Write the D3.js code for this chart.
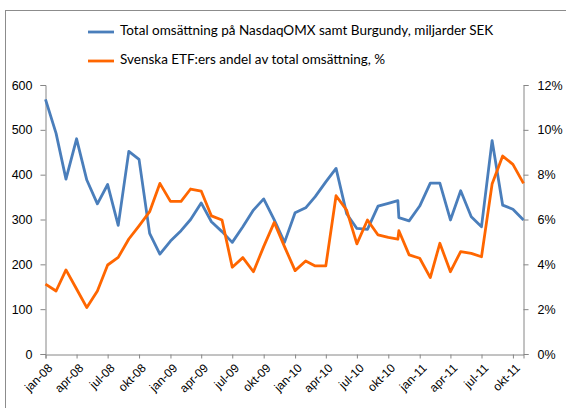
<!DOCTYPE html>
<html><head><meta charset="utf-8">
<script src="https://cdn.jsdelivr.net/npm/d3@7"></script>
<style>body{margin:0;background:#fff}svg{display:block}</style>
</head><body><svg id="c" width="566" height="408"></svg>
<script>
const dates = ["2008-01-01","2008-02-01","2008-03-01","2008-04-01","2008-05-01","2008-06-01","2008-07-01","2008-08-01","2008-09-01","2008-10-01","2008-11-01","2008-12-01",
"2009-01-01","2009-02-01","2009-03-01","2009-04-01","2009-05-01","2009-06-01","2009-07-01","2009-08-01","2009-09-01","2009-10-01","2009-11-01","2009-12-01",
"2010-01-01","2010-02-01","2010-03-01","2010-04-01","2010-05-01","2010-06-01","2010-07-01","2010-08-01","2010-09-01","2010-10-01","2010-10-29","2010-11-01","2010-12-01",
"2011-01-01","2011-02-01","2011-03-01","2011-04-01","2011-05-01","2011-06-01","2011-07-01","2011-08-01","2011-09-01","2011-10-01","2011-11-01"];
const turnover = [568,492,390,480,388,335,378,287,452,434,269,223,
252,275,300,337,295,273,249,284,321,346,299,249,
315,326,351,384,414,313,280,278,330,336,342,304,297,
330,381,381,299,364,306,284,476,332,323,299];
const etfShare = [3.12,2.81,3.75,2.90,2.07,2.81,3.97,4.31,5.13,5.72,6.35,7.61,
6.81,6.81,7.36,7.27,6.16,5.98,3.87,4.30,3.67,4.79,5.87,4.79,
3.72,4.15,3.93,3.93,7.06,6.42,4.91,5.98,5.31,5.20,5.12,5.50,4.42,
4.27,3.41,4.94,3.67,4.57,4.49,4.34,7.58,8.83,8.46,7.61];
const xTickDates = ["2008-01-01","2008-04-01","2008-07-01","2008-10-01","2009-01-01","2009-04-01","2009-07-01","2009-10-01","2010-01-01","2010-04-01","2010-07-01","2010-10-01","2011-01-01","2011-04-01","2011-07-01","2011-10-01"];
const xTickLabels = ["jan-08","apr-08","jul-08","okt-08","jan-09","apr-09","jul-09","okt-09","jan-10","apr-10","jul-10","okt-10","jan-11","apr-11","jul-11","okt-11"];
const leftTicks = [0,100,200,300,400,500,600];
const rightTicks = [0,2,4,6,8,10,12];
const seriesNames = ["Total omsättning på NasdaqOMX samt Burgundy, miljarder SEK","Svenska ETF:ers andel av total omsättning, %"];
const colors = ["#4a7ebb","#ff6600"];

const parse = d3.utcParse("%Y-%m-%d");
const svg = d3.select("#c");
const axisColor = "#868686";
const font = "'Liberation Sans', Arial, sans-serif";

// outer frame
svg.append("rect").attr("x",5.5).attr("y",10.5).attr("width",600).attr("height",500)
  .attr("fill","none").attr("stroke","#8c8c8c").attr("stroke-width",1);

const x = d3.scaleUtc().domain([parse(dates[0]), parse(dates[dates.length-1])]).range([45.5,523.5]);
const yL = d3.scaleLinear().domain([0,600]).range([354,85]);
const yR = d3.scaleLinear().domain([0,12]).range([354,85]);

const gL = svg.append("g").attr("transform","translate(45.5,0)")
  .call(d3.axisLeft(yL).tickValues(leftTicks).tickSize(5).tickPadding(8));
const gR = svg.append("g").attr("transform","translate(523.5,0)")
  .call(d3.axisRight(yR).tickValues(rightTicks).tickSize(5).tickPadding(9).tickFormat(d=>d+"%"));
const gB = svg.append("g").attr("transform","translate(0,354.5)")
  .call(d3.axisBottom(x).tickValues(xTickDates.map(parse)).tickSize(4)
  .tickFormat((d,i)=>xTickLabels[i]));
[gL,gR,gB].forEach(g=>{
  g.select(".domain").attr("stroke",axisColor);
  g.selectAll(".tick line").attr("stroke",axisColor);
  g.selectAll("text").attr("fill","#000").style("font-family",font).style("font-size","12.5px");
});
gB.selectAll(".tick text").attr("text-anchor","end").attr("dy",null).attr("y",0)
  .style("font-size","12px")
  .attr("transform","translate(5,12) rotate(-45)").attr("dominant-baseline","middle");

const lineL = d3.line().x((d,i)=>x(parse(dates[i]))).y(d=>yL(d));
const lineR = d3.line().x((d,i)=>x(parse(dates[i]))).y(d=>yR(d));
svg.append("path").datum(turnover).attr("d",lineL).attr("fill","none")
  .attr("stroke",colors[0]).attr("stroke-width",2.8).attr("stroke-linejoin","round");
svg.append("path").datum(etfShare).attr("d",lineR).attr("fill","none")
  .attr("stroke",colors[1]).attr("stroke-width",2.8).attr("stroke-linejoin","round");

const lg = svg.append("g");
seriesNames.forEach((n,i)=>{
  const yy = 32 + i*29;
  lg.append("line").attr("x1",88).attr("x2",114).attr("y1",yy).attr("y2",yy)
    .attr("stroke",colors[i]).attr("stroke-width",2.8);
  lg.append("text").attr("x",120).attr("y",yy).attr("dominant-baseline","middle")
    .style("font-family","Lato, 'Open Sans', sans-serif").style("font-size","13.5px").text(n);
});
</script></body></html>
